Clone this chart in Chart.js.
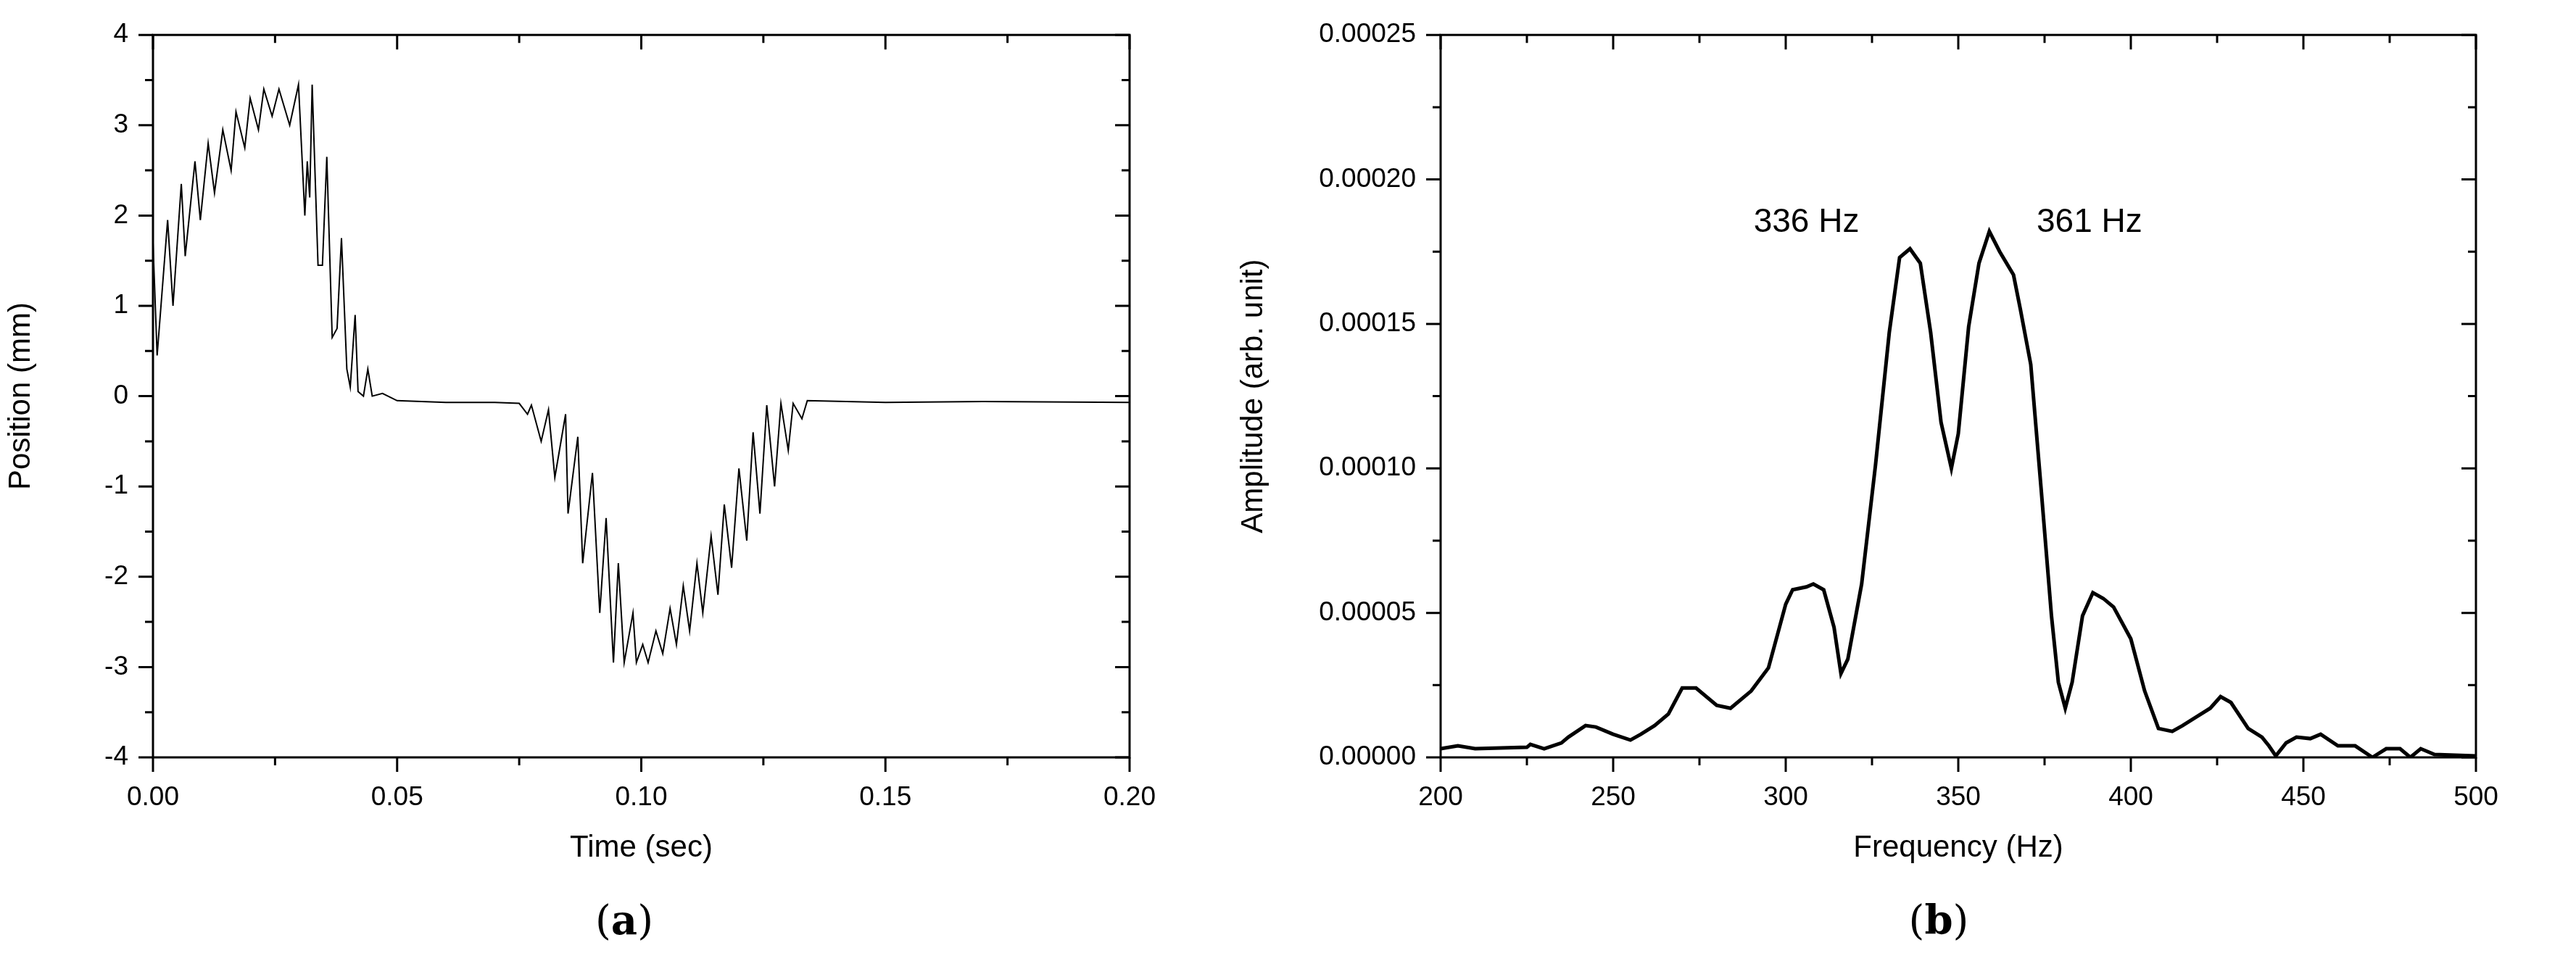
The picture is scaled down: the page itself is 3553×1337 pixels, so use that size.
<!DOCTYPE html>
<html>
<head>
<meta charset="utf-8">
<script src="https://cdn.jsdelivr.net/npm/chart.js@4"></script>
<style>
  body { margin: 0; width: 3553px; height: 1337px; background: #fff; position: relative; overflow: hidden; }
  .panel { position: absolute; top: 0; }
  .tag { position: absolute; top: 1236px; font: bold 56px "DejaVu Serif", "Liberation Serif", serif; transform: translateX(-50%); }
  .tag span { font-weight: normal; }
</style>
</head>
<body>
<div class="panel" style="left:0;width:1620px;height:1200px"><canvas id="left"></canvas></div>
<div class="panel" style="left:1700px;width:1853px;height:1200px"><canvas id="right"></canvas></div>
<div class="tag" style="left:861px"><span>(</span>a<span>)</span></div>
<div class="tag" style="left:2674px"><span>(</span>b<span>)</span></div>
<script>
// ### data: (a) position vs time ###
const timeSec = [0, 0.00085, 0.003, 0.0041, 0.0058, 0.0066, 0.0086, 0.0097, 0.0113, 0.0126, 0.0143, 0.016, 0.017, 0.0188,
  0.0199, 0.0216, 0.0227, 0.0244, 0.0258, 0.028, 0.0298, 0.0311, 0.0316, 0.0321, 0.0326, 0.0338, 0.0347, 0.0356, 0.0367,
  0.0377, 0.0386, 0.0397, 0.0404, 0.0414, 0.042, 0.0431, 0.044, 0.0449, 0.047, 0.05, 0.06, 0.07, 0.075, 0.0767, 0.0775,
  0.0795, 0.081, 0.0823, 0.0845, 0.085, 0.087, 0.088, 0.09, 0.0915, 0.0928, 0.0943, 0.0953, 0.0965, 0.0983, 0.099,
  0.1003, 0.1014, 0.103, 0.1044, 0.1059, 0.1072, 0.1086, 0.1099, 0.1114, 0.1126, 0.1143, 0.1157, 0.117, 0.1185, 0.12,
  0.1216, 0.1229, 0.1243, 0.1257, 0.1273, 0.1286, 0.1301, 0.1311, 0.1329, 0.134, 0.15, 0.17, 0.2];
const positionMm = [1.7, 0.45, 1.95, 1.0, 2.35, 1.55, 2.6, 1.95, 2.8, 2.25, 2.95, 2.5, 3.15, 2.75,
  3.3, 2.95, 3.4, 3.1, 3.4, 3.0, 3.45, 2.0, 2.6, 2.2, 3.45, 1.45, 1.45, 2.65, 0.65,
  0.75, 1.75, 0.3, 0.1, 0.9, 0.05, 0.0, 0.3, 0.0, 0.03, -0.05, -0.07, -0.07, -0.08, -0.2, -0.1,
  -0.5, -0.15, -0.9, -0.2, -1.3, -0.45, -1.85, -0.85, -2.4, -1.35, -2.95, -1.85, -2.95, -2.4, -2.95,
  -2.75, -2.95, -2.6, -2.85, -2.35, -2.75, -2.1, -2.6, -1.85, -2.4, -1.55, -2.2, -1.2, -1.9, -0.8,
  -1.6, -0.4, -1.3, -0.1, -1.0, -0.08, -0.6, -0.08, -0.25, -0.05, -0.07, -0.06, -0.07];

// ### data: (b) spectrum ###
const freqHz = [200, 205, 210, 225, 226, 230, 235, 237, 242, 245, 250, 255, 258, 262, 266, 270, 274, 280, 284, 290, 295,
  300, 302, 306, 308, 311, 314, 316, 318, 322, 326, 330, 333, 336, 339, 342, 345, 348, 350, 353, 356, 359, 362, 366,
  368, 371, 374, 377, 379, 381, 383, 386, 389, 392, 395, 400, 404, 408, 412, 415, 419, 423, 426, 429, 434, 438, 440,
  442, 445, 448, 452, 455, 460, 465, 470, 474, 478, 481, 484, 488, 500];
const amplitude = [0.3, 0.4, 0.3, 0.35, 0.45, 0.3, 0.5, 0.7, 1.1, 1.05, 0.8, 0.6, 0.8, 1.1, 1.5, 2.4, 2.4, 1.8, 1.7, 2.3, 3.1,
  5.3, 5.8, 5.9, 6.0, 5.8, 4.5, 2.9, 3.4, 6.0, 10.1, 14.7, 17.3, 17.6, 17.1, 14.7, 11.6, 10.0, 11.2, 14.9, 17.1, 18.2, 17.5, 16.7,
  15.5, 13.6, 9.3, 4.9, 2.6, 1.7, 2.6, 4.9, 5.7, 5.5, 5.2, 4.1, 2.3, 1.0, 0.9, 1.1, 1.4, 1.7, 2.1, 1.9, 1.0, 0.7, 0.4,
  0.05, 0.5, 0.7, 0.65, 0.8, 0.4, 0.4, 0.0, 0.3, 0.3, 0.0, 0.3, 0.1, 0.05].map(v => v * 1e-5);
const peakLabels = [{ text: "336 Hz", x: 306, y: 0.000185 }, { text: "361 Hz", x: 388, y: 0.000185 }];

// ### styles ###
const FONT = "'Liberation Sans', Arial, sans-serif";
const BLACK = "#000";

// frame + Origin style ticks (out on left/bottom, in on top/right)
const frameTicks = {
  id: "frameTicks",
  afterDraw(chart, args, opts) {
    const { ctx, chartArea: a, scales } = chart;
    ctx.save();
    ctx.strokeStyle = BLACK;
    ctx.lineWidth = 3;
    ctx.strokeRect(a.left, a.top, a.right - a.left, a.bottom - a.top);
    const mark = (scale, step, horizontal) => {
      const n = Math.round((scale.max - scale.min) / step);
      for (let i = 0; i <= n; i++) {
        const v = scale.min + i * step;
        const len = i % 2 === 0 ? 20 : 11;
        const p = scale.getPixelForValue(v);
        ctx.beginPath();
        if (horizontal) {
          ctx.moveTo(p, a.bottom); ctx.lineTo(p, a.bottom + len);
          ctx.moveTo(p, a.top); ctx.lineTo(p, a.top + len);
        } else {
          ctx.moveTo(a.left, p); ctx.lineTo(a.left - len, p);
          ctx.moveTo(a.right, p); ctx.lineTo(a.right - len, p);
        }
        ctx.stroke();
      }
    };
    mark(scales.x, opts.xMinor, true);
    mark(scales.y, opts.yMinor, false);
    if (opts.labels) {
      ctx.fillStyle = BLACK;
      ctx.font = "46px " + FONT;
      ctx.textAlign = "center";
      ctx.textBaseline = "middle";
      opts.labels.forEach(l => ctx.fillText(l.text, scales.x.getPixelForValue(l.x), scales.y.getPixelForValue(l.y)));
    }
    ctx.restore();
  },
};

function makeChart(id, xs, ys, cfg) {
  return new Chart(document.getElementById(id), {
    type: "line",
    data: {
      datasets: [{
        data: xs.map((x, i) => ({ x, y: ys[i] })),
        borderColor: BLACK,
        borderWidth: cfg.lineWidth,
        pointRadius: 0,
        tension: 0,
      }],
    },
    options: {
      responsive: true,
      maintainAspectRatio: false,
      animation: false,
      layout: { padding: { top: 41, right: cfg.padRight, left: 0, bottom: 0 } },
      plugins: { legend: { display: false }, tooltip: { enabled: false }, frameTicks: cfg.frame },
      scales: {
        x: {
          type: "linear", min: cfg.xMin, max: cfg.xMax,
          grid: { display: false }, border: { display: false },
          ticks: { stepSize: cfg.xStep, color: BLACK, font: { family: FONT, size: 37 }, padding: 26,
            callback: cfg.xFmt, maxRotation: 0 },
          title: { display: true, text: cfg.xTitle, color: BLACK, font: { family: FONT, size: 42 }, padding: { top: 12 } },
          afterFit: s => { s.height = 155; },
        },
        y: {
          type: "linear", min: cfg.yMin, max: cfg.yMax,
          grid: { display: false }, border: { display: false },
          ticks: { stepSize: cfg.yStep, color: BLACK, font: { family: FONT, size: 37 }, padding: 26,
            callback: cfg.yFmt },
          title: { display: true, text: cfg.yTitle, color: BLACK, font: { family: FONT, size: 42 }, padding: { bottom: 8 } },
          afterFit: s => { s.width = cfg.yWidth; },
        },
      },
    },
    plugins: [frameTicks],
  });
}

makeChart("left", timeSec, positionMm, {
  lineWidth: 2, padRight: 56, yWidth: 211,
  xMin: 0, xMax: 0.2, xStep: 0.05, xFmt: v => v.toFixed(2), xTitle: "Time (sec)",
  yMin: -4, yMax: 4, yStep: 1, yFmt: v => String(v), yTitle: "Position (mm)",
  frame: { xMinor: 0.025, yMinor: 0.5 },
});

makeChart("right", freqHz, amplitude, {
  lineWidth: 5, padRight: 138, yWidth: 287,
  xMin: 200, xMax: 500, xStep: 50, xFmt: v => String(v), xTitle: "Frequency (Hz)",
  yMin: 0, yMax: 0.00025, yStep: 0.00005, yFmt: v => v.toFixed(5), yTitle: "Amplitude (arb. unit)",
  frame: { xMinor: 25, yMinor: 0.000025, labels: peakLabels },
});
</script>
</body>
</html>
